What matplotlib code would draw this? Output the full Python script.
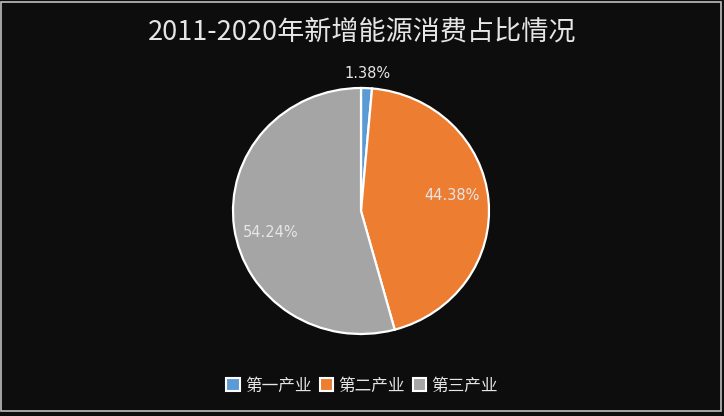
import matplotlib
matplotlib.use("Agg")
import matplotlib.pyplot as plt
import numpy as np
from matplotlib.patches import Rectangle

plt.rcParams['font.family'] = ['Noto Sans CJK SC', 'DejaVu Sans']

title = "2011-2020年新增能源消费占比情况"
categories = ["第一产业", "第二产业", "第三产业"]
values = [1.38, 44.38, 54.24]
labels = ["1.38%", "44.38%", "54.24%"]
colors = ["#5B9BD5", "#ED7D31", "#A5A5A5"]

bg = "#0d0d0d"
fig = plt.figure(figsize=(7.24, 4.16), dpi=100, facecolor=bg)

# border
fig.patches.append(Rectangle((0.002, 0.012), 0.994, 0.982, transform=fig.transFigure,
                             fill=False, edgecolor="#bfbfbf", linewidth=1.2))

# pie axes: center (361,211) px, rx ~128, ry ~123
cx, cy, rx, ry = 361, 211, 128, 123
W, H = 724, 416
ax = fig.add_axes([(cx - rx) / W, 1 - (cy + ry) / H, 2 * rx / W, 2 * ry / H])
ax.set_facecolor(bg)
wedges, _ = ax.pie(values, colors=colors, startangle=90, counterclock=False,
                   wedgeprops=dict(edgecolor="white", linewidth=1.6))
ax.set_aspect('auto')
ax.set_xlim(-1, 1)
ax.set_ylim(-1, 1)
ax.axis('off')

dists = [1.12, 0.72, 0.73]
shifts = [0, 5, 6]
for w, lab, d, s in zip(wedges, labels, dists, shifts):
    ang = np.deg2rad((w.theta1 + w.theta2) / 2 + s)
    ax.text(d * np.cos(ang), d * np.sin(ang), lab, ha='center', va='center',
            color="#e6e6e6", fontsize=10.5, family=['DejaVu Sans'])

fig.text(0.5, 1 - 32 / H, title, ha='center', va='center', color="#e6e6e6", fontsize=19.5)

handles = [Rectangle((0, 0), 1, 1, facecolor=c, edgecolor="white", linewidth=1.5) for c in colors]
leg = fig.legend(handles, categories, loc='center', bbox_to_anchor=(0.5, 1 - 386 / H),
                 ncol=3, frameon=False, fontsize=12, handlelength=0.8, handleheight=0.8,
                 handletextpad=0.3, columnspacing=0.5, labelcolor="#e6e6e6")

fig.savefig("out.png", dpi=100, facecolor=bg)
